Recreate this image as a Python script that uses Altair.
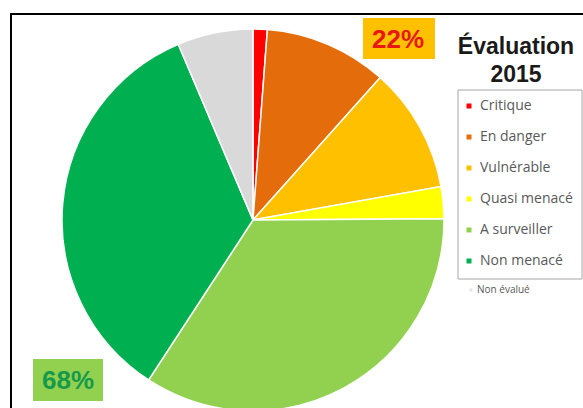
import altair as alt
import pandas as pd

categories = ["Critique", "En danger", "Vulnérable", "Quasi menacé",
              "A surveiller", "Non menacé", "Non évalué"]
values = [1.2, 10.4, 10.6, 2.7, 34.3, 34.4, 6.4]
colors = ["#FF0000", "#E46C0A", "#FFC000", "#FFFF00",
          "#92D050", "#00B050", "#D9D9D9"]
title_lines = ["Évaluation", "2015"]
summary_labels = ["22%", "68%"]

df = pd.DataFrame({"cat": categories, "value": values, "idx": list(range(len(categories)))})
one = pd.DataFrame({"a": [0]})

W, H = 583, 408

frame = alt.Chart(one).mark_rect(fill=None, stroke="#000000", strokeWidth=2).encode(
    x=alt.value(11), x2=alt.value(W + 20), y=alt.value(14), y2=alt.value(H + 20))

pie = alt.Chart(df).mark_arc(outerRadius=191, stroke="white", strokeWidth=1.5).encode(
    theta=alt.Theta("value:Q", stack=True),
    color=alt.Color("cat:N", sort=categories,
                    scale=alt.Scale(domain=categories, range=colors),
                    legend=alt.Legend(title=None, orient="none", legendX=462, legendY=99,
                                      values=categories[:6], symbolType="square",
                                      symbolSize=25, symbolStrokeWidth=0,
                                      labelFont="Open Sans", labelFontSize=14,
                                      labelColor="#595959", rowPadding=17,
                                      labelOffset=4)),
    order=alt.Order("idx:Q"),
    x=alt.value(253), y=alt.value(220))

legend_box = alt.Chart(one).mark_rect(fill=None, stroke="#A6A6A6", strokeWidth=1).encode(
    x=alt.value(458), x2=alt.value(582), y=alt.value(90), y2=alt.value(279))

ne_mark = alt.Chart(one).mark_square(size=9, color=colors[6]).encode(
    x=alt.value(471), y=alt.value(290))
ne_text = alt.Chart(one).mark_text(text=categories[6], align="left", baseline="middle",
                                   font="Open Sans", fontSize=10, color="#595959").encode(
    x=alt.value(477), y=alt.value(290))

title1 = alt.Chart(one).mark_text(text=title_lines[0], font="Liberation Sans", fontWeight="bold",
                                  fontSize=23, color="#1a1a1a", align="center",
                                  baseline="middle").encode(x=alt.value(516), y=alt.value(47))
title2 = alt.Chart(one).mark_text(text=title_lines[1], font="Liberation Sans", fontWeight="bold",
                                  fontSize=23, color="#1a1a1a", align="center",
                                  baseline="middle").encode(x=alt.value(516), y=alt.value(75))

box22 = alt.Chart(one).mark_rect(fill="#FFC000").encode(
    x=alt.value(363), x2=alt.value(435), y=alt.value(18), y2=alt.value(59))
txt22 = alt.Chart(one).mark_text(text=summary_labels[0], font="Liberation Sans", fontWeight="bold",
                                 fontSize=26, color="#E8170F", align="center",
                                 baseline="middle").encode(x=alt.value(398), y=alt.value(40))
box68 = alt.Chart(one).mark_rect(fill="#92D050").encode(
    x=alt.value(33), x2=alt.value(103), y=alt.value(359), y2=alt.value(401))
txt68 = alt.Chart(one).mark_text(text=summary_labels[1], font="Liberation Sans", fontWeight="bold",
                                 fontSize=26, color="#17994A", align="center",
                                 baseline="middle").encode(x=alt.value(68), y=alt.value(381))

chart = alt.layer(frame, pie, legend_box, ne_mark, ne_text, title1, title2,
                  box22, txt22, box68, txt68).properties(
    width=W, height=H, padding=0, autosize="none", background="white"
).configure_view(stroke=None)

chart.save("out.html", embed_options={"renderer": "svg", "actions": False})
